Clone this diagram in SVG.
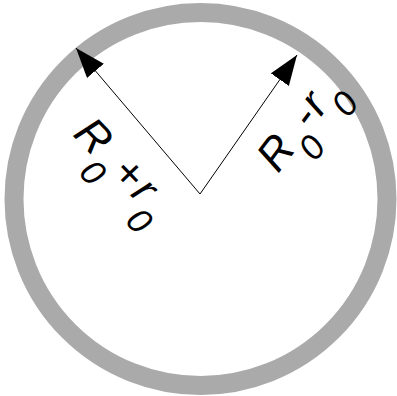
<svg xmlns="http://www.w3.org/2000/svg" width="397" height="396" viewBox="0 0 397 396">
  <style>
    .ring { fill: #ffffff; stroke: #aaaaaa; stroke-width: 19; }
    .conn { stroke: #000000; stroke-width: 1; fill: none; marker-end: url(#arrow); }
    .lbl { font-family: "Liberation Sans", Arial, sans-serif; font-size: 44px; font-style: italic; fill: #000000; }
    .sub { font-size: 35px; }
  </style>
  <defs>
    <marker id="arrow" viewBox="0 0 30 22" refX="30" refY="11" markerWidth="30" markerHeight="22" markerUnits="userSpaceOnUse" orient="auto">
      <path d="M0,0 L30,11 L0,22 Z" fill="#000000"/>
    </marker>
  </defs>
  <rect width="397" height="396" fill="#ffffff"/>
  <g id="ring">
    <circle class="ring" cx="200.5" cy="199" r="186.5"/>
  </g>
  <g id="connectors">
    <line class="conn" x1="200" y1="194" x2="76" y2="48"/>
    <line class="conn" x1="200" y1="194" x2="297" y2="55"/>
  </g>
  <g id="label-outer">
    <text class="lbl" transform="translate(72,135) rotate(46)">R<tspan class="sub" dy="23">0</tspan><tspan dx="3" dy="-23">+</tspan><tspan dx="3">r</tspan><tspan class="sub" dx="1" dy="23">0</tspan></text>
  </g>
  <g id="label-inner">
    <text class="lbl" transform="translate(278,174) rotate(-53)">R<tspan class="sub" dy="23">0</tspan><tspan dx="3" dy="-23">-</tspan><tspan dx="2">r</tspan><tspan class="sub" dx="1" dy="23">0</tspan></text>
  </g>
</svg>
